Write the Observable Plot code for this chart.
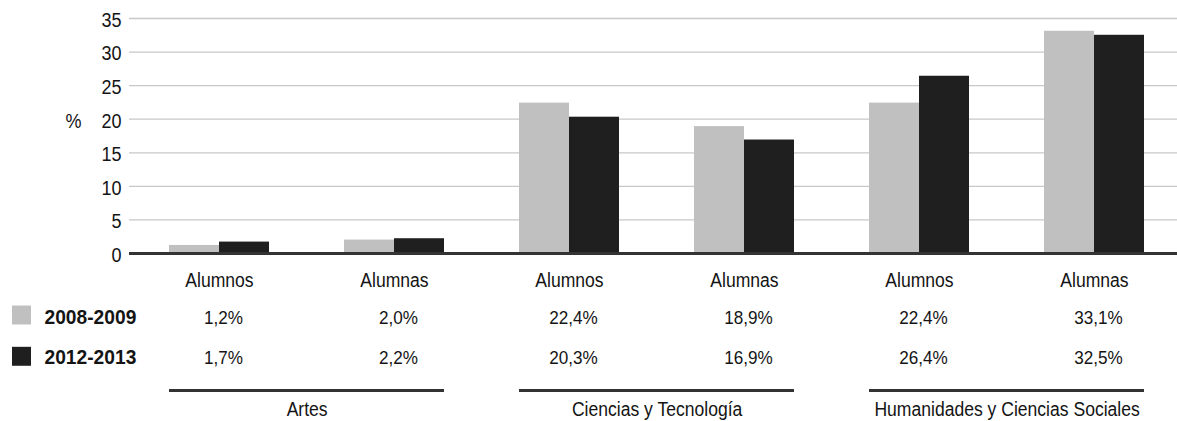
<!DOCTYPE html>
<html><head><meta charset="utf-8">
<script src="https://cdn.jsdelivr.net/npm/d3@7"></script>
<script src="https://cdn.jsdelivr.net/npm/@observablehq/plot@0.6"></script>
<style>
html,body{margin:0;padding:0;background:#fff;}
#chart svg{display:block;}
</style></head><body><div id="chart"></div>
<script>
const groups = ["Artes", "Ciencias y Tecnología", "Humanidades y Ciencias Sociales"];
const sexes = ["Alumnos", "Alumnas"];
const years = ["2008-2009", "2012-2013"];
const values2008 = [1.2, 2.0, 22.4, 18.9, 22.4, 33.1];
const values2012 = [1.7, 2.2, 20.3, 16.9, 26.4, 32.5];
const yTicks = [0, 5, 10, 15, 20, 25, 30, 35];
const yLabel = "%";

const keys = groups.flatMap(g => sexes.map(s => g + "|" + s));
const rows = keys.map((k, i) => ({key: k, group: k.split("|")[0], sex: k.split("|")[1], v2008: values2008[i], v2012: values2012[i]}));
const groupRows = groups.map(g => ({group: g, first: g + "|" + sexes[0], last: g + "|" + sexes[1]}));
const fmt = v => v.toFixed(1).replace(".", ",") + "%";
const FONT = '"Liberation Sans", Arial, sans-serif';
const INK = "#141414";

const legendMarks = years.flatMap((yr, j) => [
  Plot.dot([yr], {frameAnchor: "bottom-left", symbol: "square", r: 10.7, fill: d => d, stroke: null, dx: -108, dy: 61.5 + 41.3 * j}),
  Plot.text([yr], {frameAnchor: "bottom-left", lineAnchor: "middle", text: d => d, textAnchor: "start", fontWeight: "bold", fontSize: 20, fill: INK, dx: -85, dy: 64.5 + 40 * j})
]);

const plot = Plot.plot({
  width: 1177, height: 421,
  marginLeft: 129, marginRight: 0, marginTop: 18, marginBottom: 168,
  style: {fontFamily: FONT, color: INK, background: "#fff", overflow: "visible"},
  x: {domain: keys, range: [130, 1183], paddingInner: 0.43, paddingOuter: 0.22, axis: null},
  y: {domain: [0, 35], axis: null},
  color: {domain: years, range: ["#c0c0c0", "#1f1f1f"]},
  marks: [
    Plot.gridY(yTicks, {stroke: "#c8c8c8", strokeOpacity: 1, strokeWidth: 1.3}),
    Plot.axisY(yTicks, {tickSize: 0, tickPadding: 8, dy: 2, fontSize: 20, label: null}),
    Plot.barY(rows, {x: "key", y: "v2008", fill: () => years[0], insetRight: 50}),
    Plot.barY(rows, {x: "key", y: "v2012", fill: () => years[1], insetLeft: 50}),
    Plot.ruleY([0], {stroke: "#333", strokeWidth: 3}),
    Plot.text([yLabel], {frameAnchor: "top-left", lineAnchor: "middle", text: d => d, dx: -64, dy: 103, fontSize: 20, fill: INK}),
    Plot.text(rows, {x: "key", text: "sex", frameAnchor: "bottom", lineAnchor: "middle", dy: 27, fontSize: 19.5, fill: INK}),
    Plot.text(rows, {x: "key", text: d => fmt(d.v2008), frameAnchor: "bottom", lineAnchor: "middle", dx: 4, dy: 64.5, fontSize: 19, fill: INK}),
    Plot.text(rows, {x: "key", text: d => fmt(d.v2012), frameAnchor: "bottom", lineAnchor: "middle", dx: 4, dy: 104.5, fontSize: 19, fill: INK}),
    Plot.ruleY(groupRows, {x1: "first", x2: "last", y: () => 0, dy: 137, stroke: "#333", strokeWidth: 3}),
    Plot.text(groupRows, {x: "first", text: "group", frameAnchor: "bottom", lineAnchor: "middle", dx: 87.6, dy: 156.5, fontSize: 19.5, fill: INK}),
    ...legendMarks
  ]
});
document.getElementById("chart").append(plot);
// emulate the condensed Helvetica of the original
plot.querySelectorAll("text").forEach(t => {
  const len = t.getComputedTextLength();
  if (len > 0) {
    const w = getComputedStyle(t).fontWeight;
    const bold = w === "bold" || +w >= 600;
    t.setAttribute("textLength", (len * (bold ? 0.96 : 0.9)).toFixed(2));
    t.setAttribute("lengthAdjust", "spacingAndGlyphs");
  }
});
</script>
</body></html>
